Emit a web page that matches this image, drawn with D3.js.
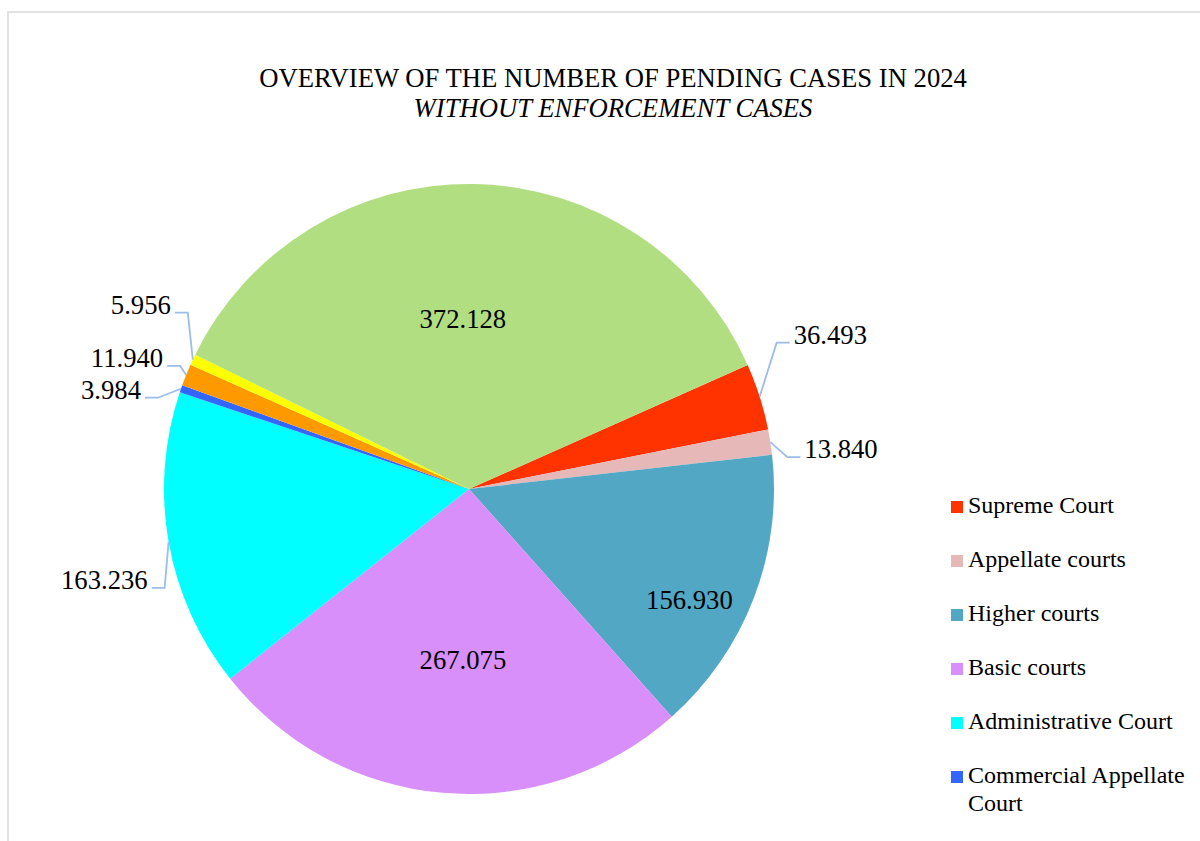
<!DOCTYPE html>
<html>
<head>
<meta charset="utf-8">
<script src="https://cdn.jsdelivr.net/npm/d3@7"></script>
<style>
  body { margin: 0; background: #fff; }
  text { font-family: "Liberation Serif", "Times New Roman", serif; fill: #000; }
</style>
</head>
<body>
<div id="chart"></div>
<script>
// data
const courts = ['Supreme Court', 'Appellate courts', 'Higher courts', 'Basic courts',
  'Administrative Court', 'Commercial Appellate Court', 'Commercial courts',
  'Misdemeanor Appellate Court', 'Misdemeanor courts']
const pending = [36493, 13840, 156930, 267075, 163236, 3984, 11940, 5956, 372128]
const labels = ['36.493', '13.840', '156.930', '267.075', '163.236', '3.984', '11.940', '5.956', '372.128']
const colors = ['#ff3300', '#e6b8b8', '#52a8c4', '#d98ff9', '#00ffff', '#3366ff', '#ff9900', '#ffff00', '#b0de80']

// how many legend rows fit in the frame
const legendShown = 6

// label placement: inside labels get nudged from the centroid,
// outside ones end their leader line at (dx,dy) from the slice edge
const labelPlace = [
  {out: true, dx: 30, dy: -54},
  {out: true, dx: 30, dy: 15},
  {out: false, dx: 78, dy: 56},
  {out: false, dx: 7, dy: 19},
  {out: true, dx: -17, dy: 46},
  {out: true, dx: -36, dy: 9},
  {out: true, dx: -19, dy: -9},
  {out: true, dx: -18, dy: -47},
  {out: false, dx: -9, dy: -18}
]

const width = 1200,
  height = 841,
  cx = 469,
  cy = 489,
  radius = 305,
  startDeg = 66

const svg = d3.select('#chart')
  .append('svg')
  .attr('width', width)
  .attr('height', height)

// chart frame (runs off the picture on the right and bottom)
svg.append('rect')
  .attr('x', 8).attr('y', 12)
  .attr('width', 1400).attr('height', 1000)
  .attr('fill', 'none')
  .attr('stroke', '#d9d9d9')
  .attr('stroke-width', 1.5)

// title
svg.append('text')
  .attr('x', 613).attr('y', 87)
  .attr('text-anchor', 'middle')
  .style('font-size', '26.67px')
  .text('OVERVIEW OF THE NUMBER OF PENDING CASES IN 2024')
svg.append('text')
  .attr('x', 613).attr('y', 117)
  .attr('text-anchor', 'middle')
  .style('font-size', '26.67px')
  .style('font-style', 'italic')
  .text('WITHOUT ENFORCEMENT CASES')

const start = startDeg * Math.PI / 180
const pie = d3.pie().sort(null).value(d => d)
  .startAngle(start).endAngle(start + 2 * Math.PI)
const arcs = pie(pending)

const arc = d3.arc().innerRadius(0).outerRadius(radius)
const edge = d3.arc().innerRadius(radius).outerRadius(radius)

const g = svg.append('g').attr('transform', `translate(${cx},${cy})`)

g.selectAll('path.slice')
  .data(arcs)
  .enter()
  .append('path')
  .attr('class', 'slice')
  .attr('d', arc)
  .attr('fill', (d, i) => colors[i])

// labels
arcs.forEach((d, i) => {
  const p = labelPlace[i]
  if (!p.out) {
    const c = arc.centroid(d)
    g.append('text')
      .attr('x', c[0] + p.dx)
      .attr('y', c[1] + p.dy)
      .attr('text-anchor', 'middle')
      .attr('dy', '0.35em')
      .style('font-size', '26.67px')
      .text(labels[i])
    return
  }
  const a = edge.centroid(d)
  const side = p.dx > 0 ? 1 : -1
  const ex = a[0] + p.dx,
    ey = a[1] + p.dy
  g.append('polyline')
    .attr('points', [[a[0], a[1]], [ex - side * 13, ey], [ex, ey]].map(q => q.join(',')).join(' '))
    .attr('fill', 'none')
    .attr('stroke', '#9cbde6')
    .attr('stroke-width', 1.8)
  g.append('text')
    .attr('x', ex + side * 4)
    .attr('y', ey + 1)
    .attr('text-anchor', side > 0 ? 'start' : 'end')
    .style('font-size', '26.67px')
    .text(labels[i])
})

// legend, wraps long names onto a second line
const legend = svg.append('g').attr('transform', 'translate(951,0)')
let ly = 513
courts.slice(0, legendShown).forEach((name, i) => {
  legend.append('rect')
    .attr('x', 0).attr('y', ly - 12)
    .attr('width', 12).attr('height', 12)
    .attr('fill', colors[i])
  const lines = name.length > 22 ? [name.split(' ').slice(0, 2).join(' '), name.split(' ').slice(2).join(' ')] : [name]
  const t = legend.append('text')
    .attr('x', 17).attr('y', ly)
    .style('font-size', '24px')
  lines.forEach((ln, j) => {
    t.append('tspan').attr('x', 17).attr('dy', j ? 28 : 0).text(ln)
  })
  ly += 54 + (lines.length - 1) * 28
})
</script>
</body>
</html>
